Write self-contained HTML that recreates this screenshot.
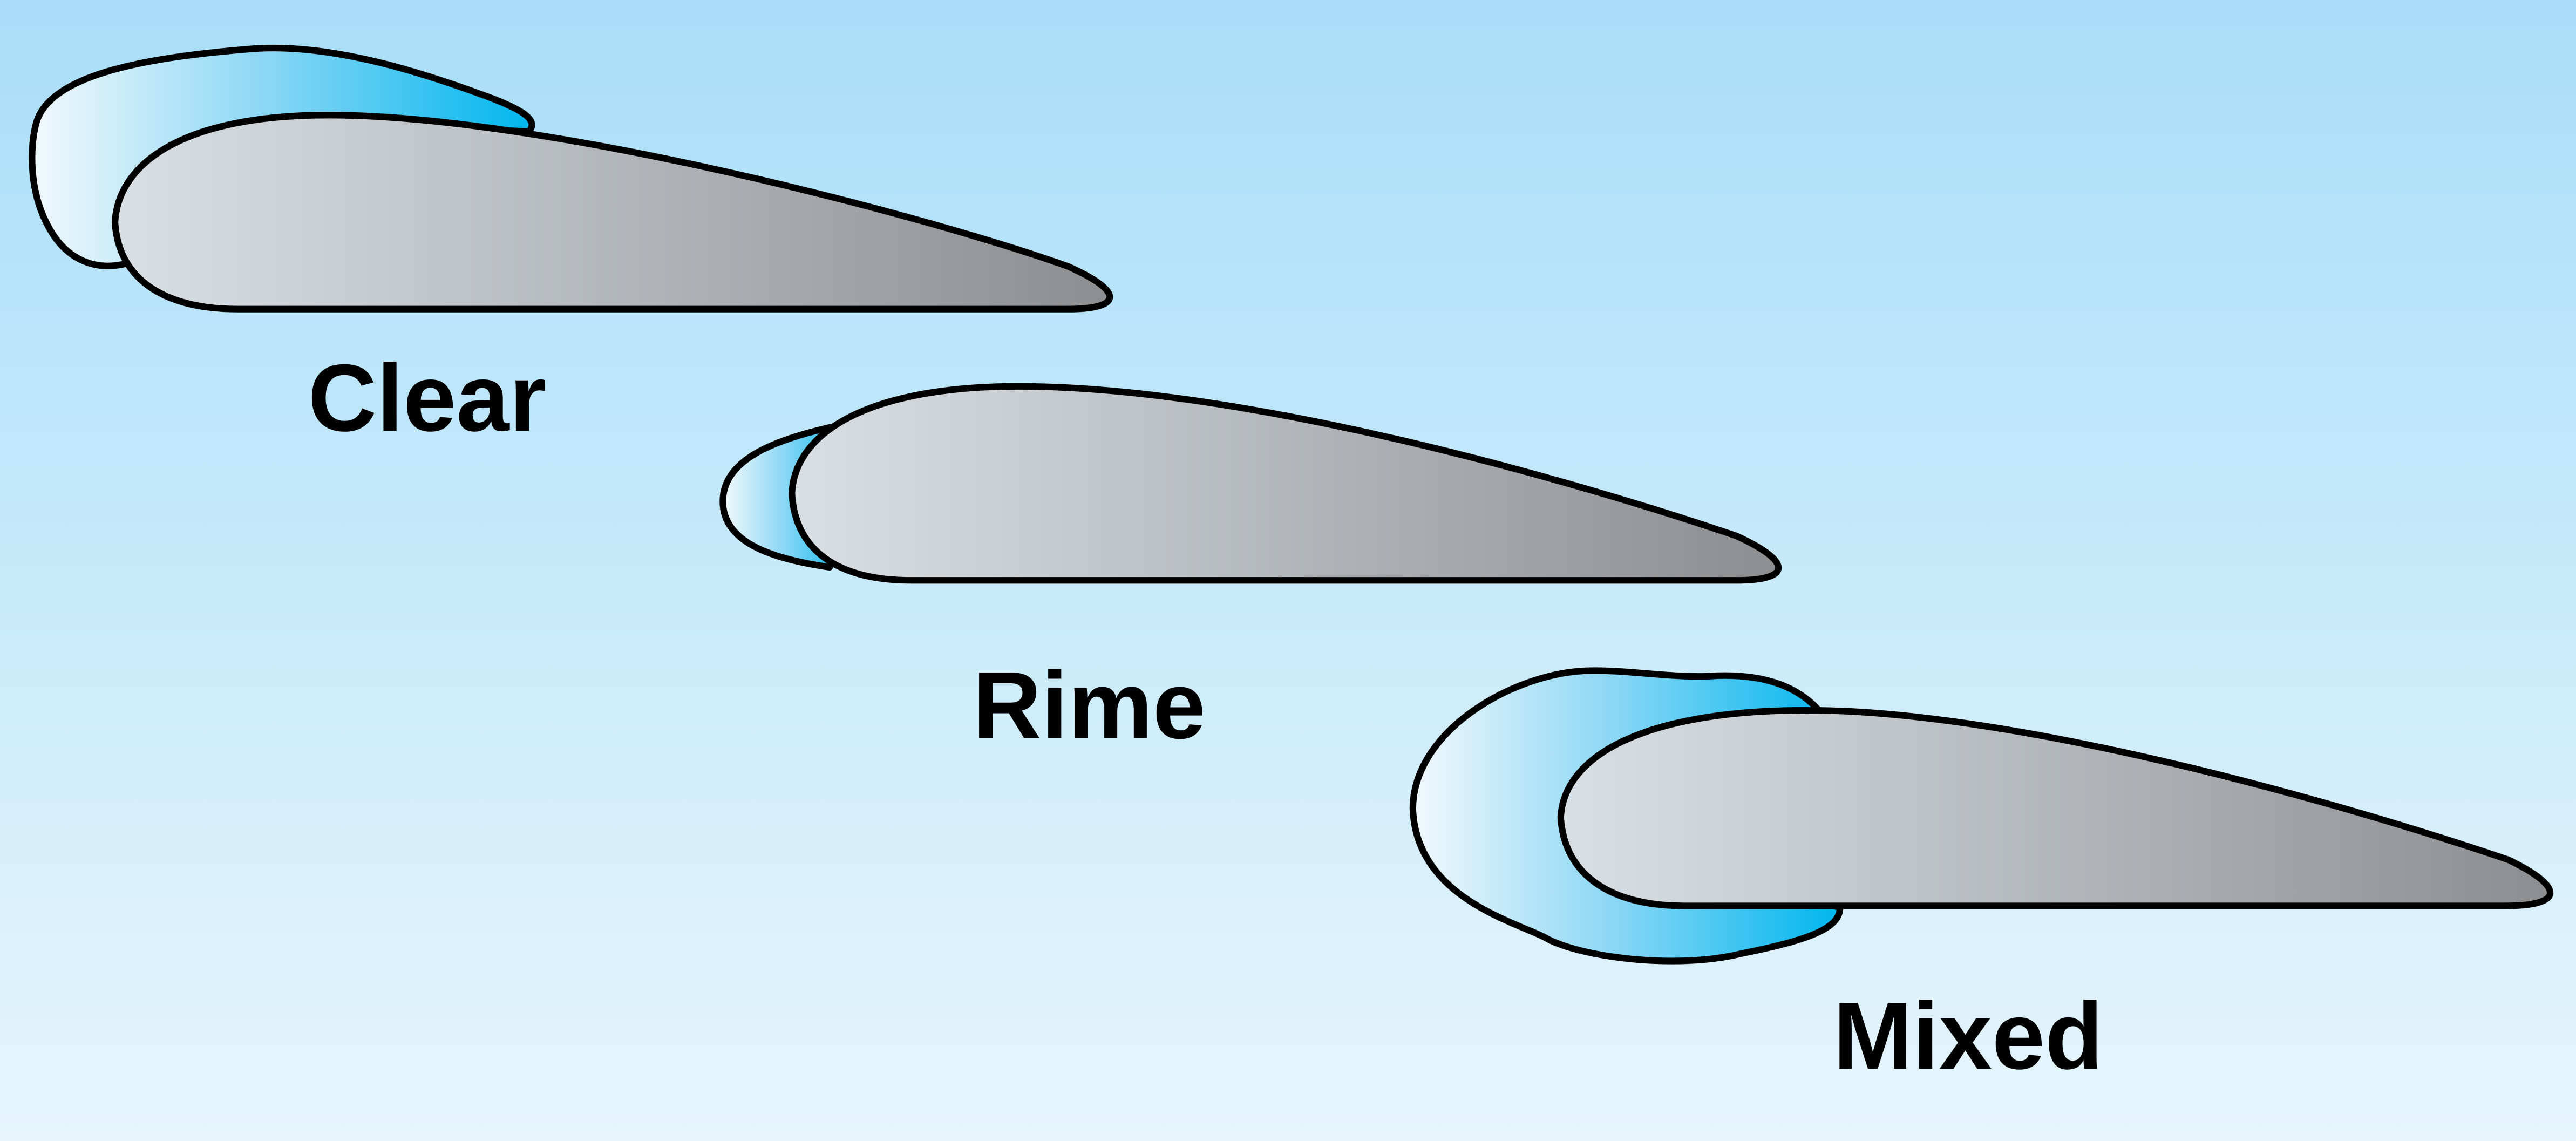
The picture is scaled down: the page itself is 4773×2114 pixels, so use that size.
<!DOCTYPE html>
<html><head><meta charset="utf-8"><style>
html,body{margin:0;padding:0;width:4773px;height:2114px;overflow:hidden}
svg{display:block}
</style></head><body>
<svg width="4773" height="2114" viewBox="0 0 1568 694" preserveAspectRatio="none" xmlns="http://www.w3.org/2000/svg">
<defs>
<linearGradient id="bg" x1="0" y1="0" x2="0" y2="1">
<stop offset="0" stop-color="#a8def8"/><stop offset="1" stop-color="#e6f5fc"/>
</linearGradient>
<linearGradient id="wing" x1="0" y1="0" x2="1" y2="0">
<stop offset="0" stop-color="#d9e0e5"/><stop offset="1" stop-color="#8c8e90"/>
</linearGradient>
<linearGradient id="ice" x1="0" y1="0" x2="1" y2="0">
<stop offset="0" stop-color="#f2f9fc"/><stop offset="0.45" stop-color="#8fd8f5"/><stop offset="1" stop-color="#00b6ee"/>
</linearGradient>
</defs>
<rect width="1568" height="694" fill="url(#bg)"/>
<g stroke="#000" stroke-width="4" stroke-linejoin="round">
<path fill="url(#ice)" d="M78,160 C60,165 40,160 28,135 C18,115 18,90 22,75 C30,45 90,35 150,30 C200,25 260,45 300,60 C318,67 328,73 322,80 L200,75 L80,110 Z"/>
<path fill="url(#wing)" d="M145,188 L650,188 C682,188 686,178 650,162 C560,130 330,70 200,70 C110,70 72,100 70,135 C72,170 100,188 145,188 Z"/>
<path fill="url(#ice)" d="M505,345 C470,340 440,330 440,305 C440,280 470,268 505,260 L520,300 Z"/>
<path fill="url(#wing)" d="M555,353 L1057,353 C1090,353 1092,342 1057,326 C960,293 760,235 620,235 C530,235 484,262 482,300 C484,335 510,353 555,353 Z"/>
<path fill="url(#ice)" d="M1108,433 C1095,418 1075,410 1045,411 C1020,413 990,407 965,408 C920,410 860,445 860,492 C862,545 920,560 940,570 C960,582 1020,590 1060,580 C1100,572 1120,565 1120,552 L1000,520 Z"/>
<path fill="url(#wing)" d="M1025,551 L1525,551 C1560,551 1562,540 1527,523 C1430,490 1230,432 1100,432 C1000,432 952,460 950,497 C952,532 980,551 1025,551 Z"/>
</g>
<g font-family="Liberation Sans, sans-serif" font-weight="bold" fill="#000" text-anchor="middle">
<text x="260" y="262" font-size="58">Clear</text>
<text x="663" y="449" font-size="58">Rime</text>
<text x="1198" y="650" font-size="58">Mixed</text>
</g>
</svg>
</body></html>
